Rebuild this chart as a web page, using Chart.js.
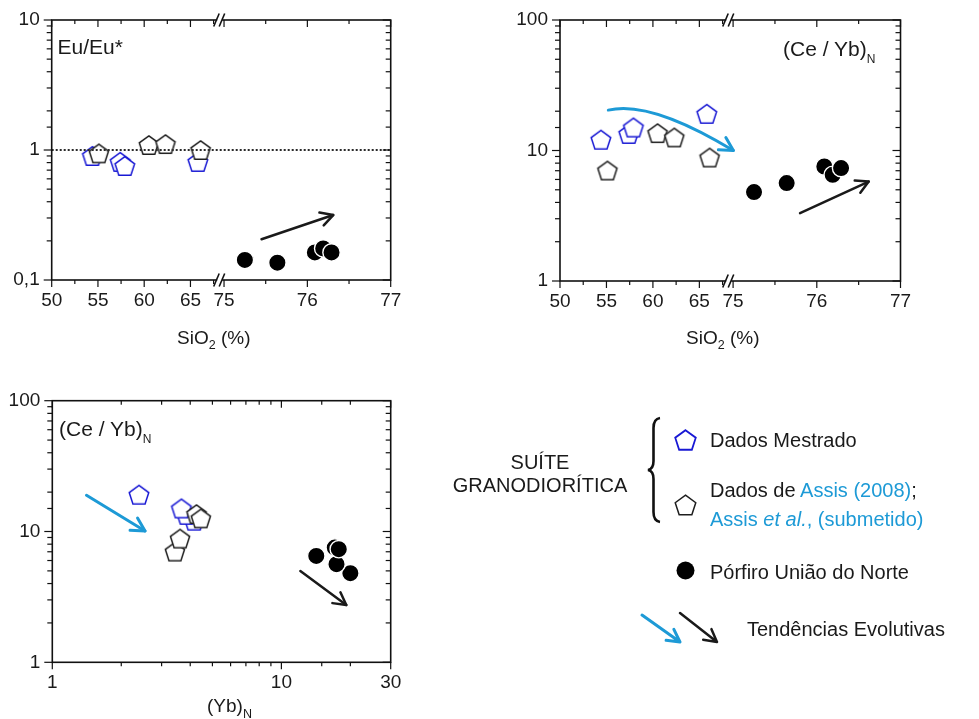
<!DOCTYPE html>
<html><head><meta charset="utf-8">
<script src="https://cdn.jsdelivr.net/npm/chart.js@4.4.1/dist/chart.umd.min.js"></script>
<style>
html,body{margin:0;padding:0;background:#fff;}
#root{position:relative;width:979px;height:719px;overflow:hidden;font-family:'Liberation Sans',Arial,sans-serif;color:#1a1a1a;}
canvas{position:absolute;}
.t{position:absolute;white-space:nowrap;line-height:1;font-size:20px;}
.ax{font-size:19px;}
.ann{font-size:21px;}
.blue{color:#1d9ad6;}
.s{position:relative;}
#deco{position:absolute;left:0;top:0;}
</style></head>
<body><div id="root">
<canvas id="c1" width="470" height="320" style="left:0;top:0"></canvas>
<canvas id="c2" width="470" height="320" style="left:508px;top:0"></canvas>
<canvas id="c3" width="470" height="320" style="left:0;top:380px"></canvas>
<svg id="deco" width="979" height="719"></svg>

<div class="t ann" style="left:57.5px;top:35.5px">Eu/Eu*</div>
<div class="t ann" style="left:783px;top:38px">(Ce / Yb)<span class="s" style="font-size:12px;top:7px">N</span></div>
<div class="t ann" style="left:59px;top:418px">(Ce / Yb)<span class="s" style="font-size:12px;top:7px">N</span></div>

<div class="t ax" style="left:177px;top:327.5px">SiO<span class="s" style="font-size:12.5px;top:5px">2</span> (%)</div>
<div class="t ax" style="left:686px;top:327.5px">SiO<span class="s" style="font-size:12.5px;top:5px">2</span> (%)</div>
<div class="t ax" style="left:207px;top:695.5px">(Yb)<span class="s" style="font-size:12.5px;top:6px">N</span></div>

<div class="t" style="left:540px;top:452.5px;transform:translateX(-50%);text-align:center;line-height:23.3px;margin-top:-1.6px">SUÍTE<br>GRANODIORÍTICA</div>
<div class="t" style="left:710px;top:430px">Dados Mestrado</div>
<div class="t" style="left:710px;top:480px">Dados de <span class="blue">Assis (2008)</span>;</div>
<div class="t blue" style="left:710px;top:508.5px">Assis <i>et al.</i>, (submetido)</div>
<div class="t" style="left:710px;top:562px">Pórfiro União do Norte</div>
<div class="t" style="left:747px;top:618.5px">Tendências Evolutivas</div>
</div>
<script>
// ---------- data ----------
const mestradoSiO2 = [54.4, 57.4, 57.9, 65.8];
const mestradoEu   = [0.90, 0.81, 0.754, 0.81];
const mestradoCeYb = [12.1, 13.4, 15.0, 19.1];
const mestradoYb   = [4.16, 3.85, 3.66, 2.39];

const assisSiO2 = [55.1, 60.5, 62.3, 66.1];
const assisEu   = [0.943, 1.093, 1.112, 1.0];
const assisCeYb = [7.03, 13.6, 12.6, 8.84];
const assisYb   = [3.43, 4.26, 4.45, 3.61];

const porfiroSiO2 = [75.25, 75.64, 76.09, 76.19, 76.29];
const porfiroEu   = [0.1426, 0.136, 0.163, 0.175, 0.163];
const porfiroCeYb = [4.80, 5.63, 7.54, 6.51, 7.33];
const porfiroYb   = [20.0, 17.4, 17.1, 14.2, 17.8];

// tick labels
const sio2TicksLow  = [50, 55, 60, 65];
const sio2TicksHigh = [75, 76, 77];
const euTicks   = [0.1, 1, 10];
const ceYbTicks = [1, 10, 100];
const ybTicks   = [1, 10, 30];

// ---------- helpers ----------
const FONT = {family: "'Liberation Sans', Arial, sans-serif", size: 19};
const TXT = '#1a1a1a';
const BLUE_MARK = '#1818d4';
const BLUE_ARROW = '#1d9ad6';
const AXIS_H = 30;

const fmt = v => String(+v.toPrecision(6)).replace('.', ',');
const labeler = list => v => list.some(t => Math.abs(t - v) < 1e-9 * Math.max(1, t)) ? fmt(v) : '';
const pts = (xs, ys) => xs.map((x, i) => ({x, y: ys[i]}));

function pentagon(stroke, r, lw) {
  const s = Math.ceil(2 * r + 2 * lw + 2);
  const c = document.createElement('canvas');
  c.width = c.height = s;
  const g = c.getContext('2d');
  const cx = s / 2, cy = s / 2 + 0.0955 * r;
  g.beginPath();
  for (let k = 0; k < 5; k++) {
    const a = -Math.PI / 2 + k * 2 * Math.PI / 5;
    g.lineTo(cx + r * Math.cos(a), cy + r * Math.sin(a));
  }
  g.closePath();
  g.fillStyle = '#fff'; g.fill();
  g.strokeStyle = stroke; g.lineWidth = lw; g.stroke();
  return c;
}
const bluePent = pentagon(BLUE_MARK, 10.3, 1.5);
const blackPent = pentagon('#1e1e1e', 10.1, 1.5);

function drawArrow(chart, ar) {
  const {ctx} = chart;
  const sx = chart.scales[ar.xId], sy = chart.scales[ar.yId];
  const P = (p) => [sx.getPixelForValue(p[0]), sy.getPixelForValue(p[1])];
  const [x0, y0] = P(ar.from), [x1, y1] = P(ar.to);
  ctx.save();
  ctx.strokeStyle = ar.color; ctx.lineWidth = ar.width;
  ctx.lineCap = 'round'; ctx.lineJoin = 'round';
  ctx.beginPath(); ctx.moveTo(x0, y0);
  let ang;
  if (ar.via) {
    const [cx, cy] = P(ar.via);
    ctx.quadraticCurveTo(cx, cy, x1, y1);
    ang = Math.atan2(y1 - cy, x1 - cx);
  } else {
    ctx.lineTo(x1, y1);
    ang = Math.atan2(y1 - y0, x1 - x0);
  }
  ctx.stroke();
  const h = ar.head, sp = 0.5;
  ctx.beginPath();
  ctx.moveTo(x1 - h * Math.cos(ang - sp), y1 - h * Math.sin(ang - sp));
  ctx.lineTo(x1, y1);
  ctx.lineTo(x1 - h * Math.cos(ang + sp), y1 - h * Math.sin(ang + sp));
  ctx.stroke();
  ctx.restore();
}

const framePlugin = {
  id: 'frame',
  afterDraw(chart, args, o) {
    const {ctx, chartArea: a} = chart;
    ctx.save();
    const seg = (x0, y0, x1, y1) => { ctx.beginPath(); ctx.moveTo(x0, y0); ctx.lineTo(x1, y1); ctx.stroke(); };
    if (o.refY !== undefined) {
      const y = chart.scales[o.yId].getPixelForValue(o.refY);
      ctx.setLineDash([2, 2]); ctx.lineWidth = 2; ctx.strokeStyle = '#2a2a2a';
      seg(a.left, y, a.right, y);
      ctx.setLineDash([]);
    }
    ctx.strokeStyle = '#111'; ctx.lineWidth = 1.6;
    ctx.strokeRect(a.left, a.top, a.right - a.left, a.bottom - a.top);
    ctx.lineWidth = 1.2;
    for (const id of o.xIds) {
      const s = chart.scales[id];
      for (const t of s.ticks) {
        const px = s.getPixelForValue(t.value);
        if (px < s.left - 0.5 || px > s.right + 0.5) continue;
        const L = t.label ? 7 : 4;
        seg(px, a.bottom, px, a.bottom + L);
        seg(px, a.top, px, a.top + L);
      }
    }
    const ys = chart.scales[o.yId];
    for (const t of ys.ticks) {
      const py = ys.getPixelForValue(t.value);
      if (py < a.top - 0.5 || py > a.bottom + 0.5) continue;
      const L = t.label ? 8 : 5;
      seg(a.left - L, py, a.left, py);
      seg(a.right - L, py, a.right, py);
    }
    if (o.breakAfter) {
      const bx = chart.scales[o.breakAfter].right + 2;
      for (const by of [a.top, a.bottom]) {
        ctx.fillStyle = '#fff'; ctx.fillRect(bx - 3, by - 2.5, 5, 5);
        ctx.lineWidth = 1.6; ctx.strokeStyle = '#111';
        seg(bx - 6.5, by + 6.5, bx - 1, by - 6.5);
        seg(bx - 1, by + 6.5, bx + 4.5, by - 6.5);
      }
    }
    for (const ar of (o.arrows || [])) drawArrow(chart, ar);
    ctx.restore();
  }
};

function baseScale(extra) {
  return Object.assign({
    grid: {display: false, drawTicks: true, tickLength: 7},
    border: {display: false},
  }, extra);
}

function brokenPanel(id, geom, yMin, yMax, yLabels, datasets, frameOpts) {
  const c = document.getElementById(id);
  const W = c.width, H = c.height;
  const wLow = 166.5, wHigh = 172.5;
  return new Chart(c, {
    type: 'scatter',
    data: {datasets},
    options: {
      responsive: false, animation: false, events: [],
      layout: {padding: {left: 0, top: geom.top, right: W - geom.right, bottom: H - geom.bottom - AXIS_H}},
      plugins: {legend: {display: false}, tooltip: {enabled: false}, frame: frameOpts},
      scales: {
        xa: baseScale({type: 'linear', position: 'bottom', stack: 'sx', stackWeight: wLow, min: 50, max: 68,
          afterFit: s => { s.height = AXIS_H; },
          ticks: {stepSize: 2.5, includeBounds: false, autoSkip: false, maxRotation: 0, minRotation: 0, padding: 2,
            font: FONT, color: TXT, callback: labeler(sio2TicksLow)}}),
        xb: baseScale({type: 'linear', position: 'bottom', stack: 'sx', stackWeight: wHigh, min: 74.93, max: 77,
          afterFit: s => { s.height = AXIS_H; },
          ticks: {stepSize: 0.5, includeBounds: false, autoSkip: false, maxRotation: 0, minRotation: 0, padding: 2,
            font: FONT, color: TXT, callback: labeler(sio2TicksHigh)}}),
        y: baseScale({type: 'logarithmic', position: 'left', min: yMin, max: yMax,
          afterFit: s => { s.width = geom.left; },
          grid: {display: false, drawTicks: true, tickLength: 7},
          ticks: {autoSkip: false, padding: 5, font: FONT, color: TXT, callback: labeler(yLabels)}})
      }
    },
    plugins: [framePlugin]
  });
}

function sio2Sets(yM, yA, yP) {
  return [
    {label: 'Dados de Assis (2008); Assis et al., (submetido)', data: pts(assisSiO2, yA), xAxisID: 'xa', yAxisID: 'y',
      pointStyle: blackPent, pointRadius: 9, order: 1},
    {label: 'Dados Mestrado', data: pts(mestradoSiO2, yM), xAxisID: 'xa', yAxisID: 'y',
      pointStyle: bluePent, pointRadius: 9, order: 2},
    {label: 'Pórfiro União do Norte', data: pts(porfiroSiO2, yP), xAxisID: 'xb', yAxisID: 'y',
      pointStyle: 'circle', pointRadius: 8.7, pointBackgroundColor: '#000', pointBorderColor: '#fff', pointBorderWidth: 1.4, order: 0}
  ];
}

// Panel 1: Eu/Eu* vs SiO2
brokenPanel('c1', {left: 51.7, right: 390.7, top: 20, bottom: 280}, 0.1, 10, euTicks,
  sio2Sets(mestradoEu, assisEu, porfiroEu),
  {xIds: ['xa', 'xb'], yId: 'y', breakAfter: 'xa', refY: 1,
   arrows: [{xId: 'xb', yId: 'y', from: [75.45, 0.206], to: [76.31, 0.316], color: '#1a1a1a', width: 2.5, head: 14}]});

// Panel 2: (Ce/Yb)N vs SiO2
brokenPanel('c2', {left: 52, right: 392.5, top: 20, bottom: 281}, 1, 100, ceYbTicks,
  sio2Sets(mestradoCeYb, assisCeYb, porfiroCeYb),
  {xIds: ['xa', 'xb'], yId: 'y', breakAfter: 'xa',
   arrows: [
     {xId: 'xb', yId: 'y', from: [75.8, 3.31], to: [76.62, 5.78], color: '#1a1a1a', width: 2.5, head: 14},
     {xId: 'xa', yId: 'y', from: [55.2, 20.4], via: [59.7, 24.4], to: [68.66, 10.0], color: BLUE_ARROW, width: 3, head: 15}
   ]});

// Panel 3: (Ce/Yb)N vs (Yb)N
(function () {
  const c = document.getElementById('c3');
  const geom = {left: 52.3, right: 390.7, top: 20.7, bottom: 282.3};
  new Chart(c, {
    type: 'scatter',
    data: {datasets: [
      {label: 'Dados de Assis (2008); Assis et al., (submetido)', data: pts(assisYb, assisCeYb), pointStyle: blackPent, pointRadius: 9, order: 1},
      {label: 'Dados Mestrado', data: pts(mestradoYb, mestradoCeYb), pointStyle: bluePent, pointRadius: 9, order: 2},
      {label: 'Pórfiro União do Norte', data: pts(porfiroYb, porfiroCeYb), pointStyle: 'circle', pointRadius: 8.7,
        pointBackgroundColor: '#000', pointBorderColor: '#fff', pointBorderWidth: 1.4, order: 0}
    ]},
    options: {
      responsive: false, animation: false, events: [],
      layout: {padding: {left: 0, top: geom.top, right: c.width - geom.right, bottom: c.height - geom.bottom - AXIS_H}},
      plugins: {legend: {display: false}, tooltip: {enabled: false},
        frame: {xIds: ['x'], yId: 'y', arrows: [
          {xId: 'x', yId: 'y', from: [1.41, 18.9], to: [2.54, 10.1], color: BLUE_ARROW, width: 3, head: 15},
          {xId: 'x', yId: 'y', from: [12.1, 4.99], to: [19.2, 2.74], color: '#1a1a1a', width: 2.5, head: 14}
        ]}},
      scales: {
        x: baseScale({type: 'logarithmic', position: 'bottom', min: 1, max: 30,
          afterFit: s => { s.height = AXIS_H; },
          ticks: {autoSkip: false, maxRotation: 0, minRotation: 0, padding: 2, font: FONT, color: TXT, callback: labeler(ybTicks)}}),
        y: baseScale({type: 'logarithmic', position: 'left', min: 1, max: 100,
          afterFit: s => { s.width = geom.left; },
          ticks: {autoSkip: false, padding: 5, font: FONT, color: TXT, callback: labeler(ceYbTicks)}})
      }
    },
    plugins: [framePlugin]
  });
})();

// ---------- legend decorations (SVG) ----------
(function () {
  const NS = 'http://www.w3.org/2000/svg';
  const svg = document.getElementById('deco');
  const add = (tag, attrs) => { const e = document.createElementNS(NS, tag); for (const k in attrs) e.setAttribute(k, attrs[k]); svg.appendChild(e); return e; };
  const pentPts = (cx, cy, r) => {
    const p = []; const oy = cy + 0.0955 * r;
    for (let k = 0; k < 5; k++) { const a = -Math.PI / 2 + k * 2 * Math.PI / 5; p.push((cx + r * Math.cos(a)).toFixed(2) + ',' + (oy + r * Math.sin(a)).toFixed(2)); }
    return p.join(' ');
  };
  // brace
  add('path', {d: 'M 660 418 Q 653.5 419 653.5 428 L 653.5 461 Q 653.5 469 648 470 Q 653.5 471 653.5 479 L 653.5 512 Q 653.5 521 660 522',
    fill: 'none', stroke: '#111', 'stroke-width': 2.6});
  add('polygon', {points: pentPts(685.5, 440, 10.8), fill: '#fff', stroke: BLUE_MARK, 'stroke-width': 1.8});
  add('polygon', {points: pentPts(685.5, 505, 10.8), fill: '#fff', stroke: '#1e1e1e', 'stroke-width': 1.5});
  add('circle', {cx: 685.5, cy: 570.5, r: 9, fill: '#000'});
  const arrow = (x0, y0, x1, y1, col, w) => {
    const ang = Math.atan2(y1 - y0, x1 - x0), h = 14, sp = 0.5;
    add('path', {d: `M ${x0} ${y0} L ${x1} ${y1} M ${(x1 - h * Math.cos(ang - sp)).toFixed(2)} ${(y1 - h * Math.sin(ang - sp)).toFixed(2)} L ${x1} ${y1} L ${(x1 - h * Math.cos(ang + sp)).toFixed(2)} ${(y1 - h * Math.sin(ang + sp)).toFixed(2)}`,
      fill: 'none', stroke: col, 'stroke-width': w, 'stroke-linecap': 'round', 'stroke-linejoin': 'round'});
  };
  arrow(642, 615, 680, 642, BLUE_ARROW, 3);
  arrow(680, 613, 717, 642, '#1a1a1a', 2.5);
})();
</script>
</body></html>
